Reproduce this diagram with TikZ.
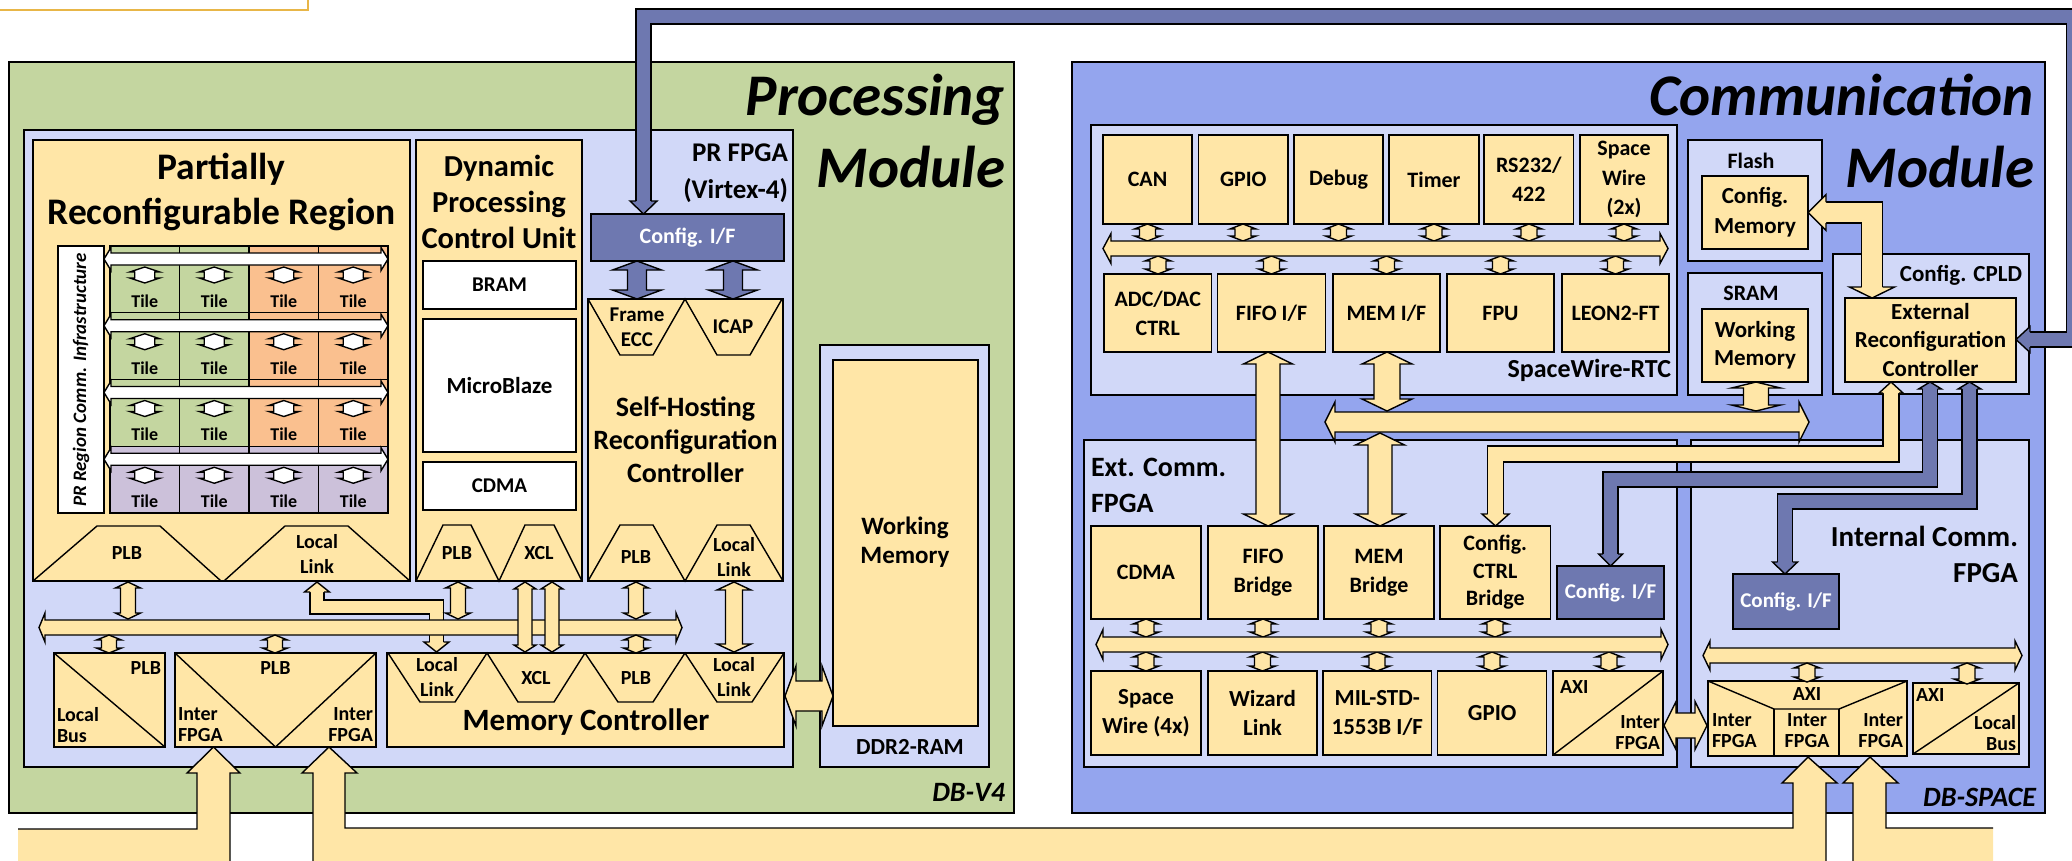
\documentclass[tikz,border=0pt]{standalone}
\usepackage{fontspec}
\setmainfont{Carlito}
\definecolor{cy}{RGB}{255,230,167}
\definecolor{cl}{RGB}{209,216,248}
\definecolor{cc}{RGB}{148,165,238}
\definecolor{cd}{RGB}{110,120,176}
\definecolor{cg}{RGB}{196,214,160}
\definecolor{co}{RGB}{250,192,143}
\definecolor{cp}{RGB}{204,193,218}
\definecolor{cgold}{RGB}{232,182,72}
\newcommand\fsz[2]{\fontsize{\fpeval{0.3*(#1)}}{\fpeval{0.3*(#1)*(#2)}}\selectfont}
\newcommand\bx[7][]{\node[bxs,#1,minimum width={(#5-#3)*0.3pt},minimum height={(#6-#4)*0.3pt}] (#2) at ({(#3+#5)/2},{(#4+#6)/2}) {#7};}
% vertical double arrow: fill, x, ytop, ybottom, shaft, head width, head len top, head len bottom
\newcommand\vdarrow[8]{\filldraw[fill=#1] (#2,#3) -- ++({#6/2},#7) -- ++({-(#6-#5)/2},0) -- ({#2+#5/2},{#4-#8}) -- ++({(#6-#5)/2},0) -- (#2,#4) -- ++({-#6/2},-#8) -- ++({(#6-#5)/2},0) -- ({#2-#5/2},{#3+#7}) -- ++({-(#6-#5)/2},0) -- cycle;}
% horizontal double arrow: fill, y, xleft, xright, shaft, head width, head len
\newcommand\hdarrow[7]{\filldraw[fill=#1] (#3,#2) -- ++(#7,{-#6/2}) -- ++(0,{(#6-#5)/2}) -- ({#4-#7},{#2-#5/2}) -- ++(0,{-(#6-#5)/2}) -- (#4,#2) -- ++(-#7,{#6/2}) -- ++(0,{-(#6-#5)/2}) -- ({#3+#7},{#2+#5/2}) -- ++(0,{(#6-#5)/2}) -- cycle;}
% band along a path: fill colour, width, path
\newcommand\bandpath[3]{\draw[line width={(#2+1.4)*0.3pt},black] #3;\draw[line width={(#2-1.4)*0.3pt},#1] #3;}
% arrow head: fill, tip, angle, shaft width, head width, head length
\newcommand\ahead[6]{\begin{scope}[shift={#2},rotate=#3]\fill[#1] (0,0) -- (-#6,{#5/2}) -- (-#6,{-#5/2}) -- cycle;\draw (-#6,{#4/2}) -- (-#6,{#5/2}) -- (0,0) -- (-#6,{-#5/2}) -- (-#6,{-#4/2});\end{scope}}
\tikzset{bxs/.style={draw,inner sep=0pt,outer sep=0pt,align=center,font=\bfseries},
 lbl/.style={inner sep=0pt,outer sep=0pt,align=center}}
\begin{document}
\begin{tikzpicture}[x=0.3pt,y=-0.3pt,line width=0.42pt,line join=miter]
\useasboundingbox (0,0) rectangle (2072,860);
\clip (0,0) rectangle (2072,860);
% legend box (cut off)
\bx[draw=cgold,fill=white,line width=0.6pt]{legend}{-10}{-20}{308}{10}{}
% modules
\bx[fill=cg]{procmod}{9}{62}{1014}{813}{}
\bx[fill=cc]{commmod}{1072}{62}{2045}{813}{}
\node[lbl,anchor=east,align=right,font={\bfseries\itshape\fsz{59}{1.22}}] (proctitle) at (1005,131) {Processing\\Module};
\node[lbl,anchor=east,align=right,font={\bfseries\itshape\fsz{59}{1.22}}] (commtitle) at (2034,131) {Communication\\Module};
\node[lbl,anchor=east,font={\bfseries\itshape\fsz{28}{1.2}}] (dbv4) at (1005,792) {DB-V4};
\node[lbl,anchor=east,font={\bfseries\itshape\fsz{28}{1.2}}] (dbspace) at (2036,797) {DB-SPACE};
% ===== Processing module =====
\bx[fill=cl]{prfpga}{24}{130}{793}{767}{}
\node[lbl,anchor=east,align=right,font={\bfseries\fsz{27}{1.35}}] (prlbl) at (788,173) {PR FPGA\\(Virtex-4)};
\bx[fill=cl]{ddr}{820}{345}{989}{767}{}
\bx[fill=cy,font={\bfseries\fsz{25}{1.16}}]{wmddr}{833}{360}{978}{726}{}
\node[lbl,font={\bfseries\fsz{25}{1.16}}] (wmlbl) at (905,542) {Working\\Memory};
\node[lbl,font={\bfseries\fsz{23}{1.2}}] (ddrlbl) at (910,747) {DDR2-RAM};
% PR region
\bx[fill=cy]{prr}{33}{140}{410}{581}{}
\node[lbl,font={\bfseries\fsz{37.5}{1.2}}] (prrlbl) at (221.5,192) {Partially\\Reconfigurable Region};
\bx[fill=white]{prcomm}{58}{246}{104}{513}{}
\node[lbl,rotate=90,font={\bfseries\itshape\fsz{19}{1}}] (prcommlbl) at (81,380) {PR Region Comm. Infrastructure};
\foreach \row in {0,1,2,3}{
  \pgfmathsetmacro\ty{246+66.75*\row}
  \foreach \col in {0,1,2,3}{
    \pgfmathsetmacro\tx{110+69.5*\col}
    \ifnum\row=3 \def\tcol{cp}\else\ifnum\col<2 \def\tcol{cg}\else\def\tcol{co}\fi\fi
    \node[draw,fill=\tcol,inner sep=0pt,outer sep=0pt,minimum width=20.85pt,minimum height=20.025pt] (tile\row\col) at (\tx+34.75,\ty+33.375) {};
  }
  \hdarrow{white}{\ty+13}{104}{388}{12}{23}{7}
  \foreach \col in {0,1,2,3}{
    \pgfmathsetmacro\tx{110+69.5*\col}
    \vdarrow{white}{\tx+34.75}{\ty+21}{\ty+37}{20}{30}{5}{5}
    \node[lbl,font={\bfseries\fsz{18}{1.2}}] (tilet\row\col) at (\tx+34.75,\ty+55) {Tile};
  }
}
\draw (33,581) -- (97,526) -- (160,526) -- (221,581);
\draw (224,581) -- (285,526) -- (348,526) -- (410,581);
\node[lbl,font={\bfseries\fsz{20}{1.26}}] (prrplb) at (127,553) {PLB};
\node[lbl,font={\bfseries\fsz{20}{1.26}}] (prrll) at (317,554) {Local\\Link};
% DPCU
\bx[fill=cy]{dpcu}{416}{140}{582}{581}{}
\node[lbl,font={\bfseries\fsz{30.5}{1.18}}] (dpculbl) at (499,202) {Dynamic\\Processing\\Control Unit};
\bx[fill=white,font={\bfseries\fsz{21}{1.2}}]{bram}{423}{261}{576}{309}{BRAM}
\bx[fill=white,font={\bfseries\fsz{23}{1.2}}]{mb}{423}{319}{576}{452}{MicroBlaze}
\bx[fill=white,font={\bfseries\fsz{21}{1.2}}]{cdmaa}{423}{462}{576}{510}{CDMA}
\draw (416,581) -- (443,525) -- (471,525) -- (499,581) -- (525,525) -- (554,525) -- (582,581);
\node[lbl,font={\bfseries\fsz{20}{1.2}}] (dpcuplb) at (457,553) {PLB};
\node[lbl,font={\bfseries\fsz{20}{1.2}}] (dpcuxcl) at (539,553) {XCL};
% SHRC
\bx[fill=cy]{shrc}{588}{299}{783}{581}{}
\node[lbl,font={\bfseries\fsz{28}{1.18}}] (shrclbl) at (685.5,440) {Self-Hosting\\Reconfiguration\\Controller};
\bx[fill=cd,text=white,font={\bfseries\fsz{22}{1.2}}]{cfgpr}{591}{214}{784}{261}{Config. I/F}
\draw (588,299) -- (620,355) -- (653,355) -- (685,299) -- (717,355) -- (750,355) -- (782,299);
\node[lbl,font={\bfseries\fsz{21}{1.2}}] (fecc) at (637,327) {Frame\\ECC};
\node[lbl,font={\bfseries\fsz{21}{1.2}}] (icap) at (733,327) {ICAP};
\draw (588,581) -- (620,525) -- (653,525) -- (685,581) -- (717,525) -- (750,525) -- (783,581);
\node[lbl,font={\bfseries\fsz{20}{1.26}}] (shrcplb) at (636,557) {PLB};
\node[lbl,font={\bfseries\fsz{20}{1.26}}] (shrcll) at (734,557) {Local\\Link};
% bottom blocks
\bx[fill=cy]{lbus}{54}{653}{165}{747}{}
\draw (54,653) -- (165,747);
\node[lbl,anchor=east,font={\bfseries\fsz{20}{1.05}}] (lbusplb) at (161,668) {PLB};
\node[lbl,anchor=west,align=left,font={\bfseries\fsz{20}{1.05}}] (lbuslb) at (57,725) {Local\\Bus};
\bx[fill=cy]{ifpga}{175}{653}{376}{747}{}
\draw (175,653) -- (275.5,747) -- (376,653);
\node[lbl,font={\bfseries\fsz{20}{1.05}}] (ifpgaplb) at (275.5,668) {PLB};
\node[lbl,anchor=west,align=left,font={\bfseries\fsz{20}{1.05}}] (ifpgal) at (178,725) {Inter\\FPGA};
\node[lbl,anchor=east,align=right,font={\bfseries\fsz{20}{1.05}}] (ifpgar) at (373,725) {Inter\\FPGA};
\bx[fill=cy]{mc}{387}{653}{784}{747}{}
\draw (388,653) -- (420,702) -- (455,702) -- (487,653) -- (518,702) -- (554,702) -- (585,653) -- (618,702) -- (653,702) -- (685,653) -- (717,702) -- (752,702) -- (784,653);
\node[lbl,font={\bfseries\fsz{20}{1.26}}] (mcll1) at (437,677) {Local\\Link};
\node[lbl,font={\bfseries\fsz{20}{1.2}}] (mcxcl) at (536,678) {XCL};
\node[lbl,font={\bfseries\fsz{20}{1.2}}] (mcplb) at (636,678) {PLB};
\node[lbl,font={\bfseries\fsz{20}{1.26}}] (mcll2) at (734,677) {Local\\Link};
\node[lbl,font={\bfseries\fsz{31}{1.2}}] (mclbl) at (586,722) {Memory Controller};
% PR arrows
\vdarrow{cd}{637}{261}{299}{19}{49}{9}{9}
\vdarrow{cd}{733}{261}{299}{19}{49}{9}{9}
\vdarrow{cy}{128}{582}{619}{15}{25}{6}{6}
\bandpath{cy}{14}{(317,591) -- (317,607) -- (436.5,607) -- (436.5,643)}
\ahead{cy}{(317,582)}{90}{14}{25}{10}
\ahead{cy}{(436.5,652)}{-90}{14}{25}{10}
\vdarrow{cy}{458}{582}{619}{15}{25}{6}{6}
\vdarrow{cy}{636}{582}{619}{15}{25}{6}{6}
\vdarrow{cy}{734}{582}{652}{17}{34}{8}{8}
\hdarrow{cy}{627.5}{39}{682}{15}{29}{6}
\vdarrow{cy}{525}{582}{652}{14}{22}{7}{7}
\vdarrow{cy}{552}{582}{652}{14}{22}{7}{7}
\vdarrow{cy}{109}{635}{653}{15}{25}{5}{5}
\vdarrow{cy}{275}{635}{653}{15}{25}{5}{5}
\vdarrow{cy}{636}{635}{653}{15}{25}{5}{5}
\hdarrow{cy}{696}{785}{833}{30}{60}{11}
% ===== Communication module =====
\bx[fill=cl]{rtc}{1091}{125}{1677}{395}{}
\node[lbl,anchor=east,font={\bfseries\fsz{26}{1.2}}] (rtclbl) at (1671,370) {SpaceWire-RTC};
\bx[fill=cy,font={\bfseries\fsz{22}{1.32}}]{can}{1103}{135}{1192}{224}{CAN}
\bx[fill=cy,font={\bfseries\fsz{22}{1.32}}]{gpioa}{1198.5}{135}{1288}{224}{GPIO}
\bx[fill=cy,font={\bfseries\fsz{22}{1.32}}]{debug}{1294}{135}{1383}{224}{Debug}
\bx[fill=cy,font={\bfseries\fsz{22}{1.32}}]{timer}{1389}{135}{1479}{224}{Timer}
\bx[fill=cy,font={\bfseries\fsz{22}{1.3}}]{rs}{1484}{135}{1573.5}{224}{RS232/\\422}
\bx[fill=cy,font={\bfseries\fsz{22}{1.34}}]{spwa}{1580}{135}{1668}{224}{Space\\Wire\\(2x)}
\bx[fill=cy,font={\bfseries\fsz{22}{1.32}}]{adc}{1104}{274}{1211.5}{352}{ADC/DAC\\CTRL}
\bx[fill=cy,font={\bfseries\fsz{22}{1.32}}]{fifoif}{1217.6}{274}{1325.5}{352}{FIFO I/F}
\bx[fill=cy,font={\bfseries\fsz{22}{1.32}}]{memif}{1333}{274}{1440}{352}{MEM I/F}
\bx[fill=cy,font={\bfseries\fsz{22}{1.32}}]{fpu}{1447}{274}{1554}{352}{FPU}
\bx[fill=cy,font={\bfseries\fsz{22}{1.32}}]{leon}{1562}{274}{1669}{352}{LEON2-FT}
\foreach \x in {1147.5,1243,1338.5,1434,1529,1624}{\vdarrow{cy}{\x}{224}{241}{16}{26}{5}{5}}
\foreach \x in {1158,1271.5,1386.5,1500.5,1615.5}{\vdarrow{cy}{\x}{256}{274}{16}{26}{5}{5}}
\hdarrow{cy}{248.5}{1103}{1668}{15}{30}{8}
\bx[fill=cl]{flash}{1688}{140}{1822}{261}{}
\node[lbl,font={\bfseries\fsz{22}{1.2}}] (flashlbl) at (1751,161) {Flash};
\bx[fill=cy,font={\bfseries\fsz{23}{1.3}}]{cfgmem}{1702}{176}{1808}{249}{Config.\\Memory}
\bx[fill=cl]{sram}{1688}{273}{1822}{395}{}
\node[lbl,font={\bfseries\fsz{22}{1.2}}] (sramlbl) at (1751,293) {SRAM};
\bx[fill=cy,font={\bfseries\fsz{23}{1.22}}]{wmsram}{1702}{309}{1808}{382}{Working\\Memory}
\bx[fill=cl]{cpld}{1833}{254}{2029}{394}{}
\node[lbl,anchor=east,font={\bfseries\fsz{23}{1.2}}] (cpldlbl) at (2022,275) {Config. CPLD};
\bx[fill=cy,font={\bfseries\fsz{23}{1.24}}]{erc}{1845}{298}{2016}{382}{External\\Reconfiguration\\Controller}
% Ext comm FPGA
\bx[fill=cl]{ext}{1084}{440}{1677}{767}{}
\node[lbl,anchor=west,align=left,font={\bfseries\fsz{28}{1.29}}] (extlbl) at (1091,485) {Ext. Comm.\\FPGA};
\bx[fill=cy,font={\bfseries\fsz{22}{1.32}}]{cdmab}{1091}{526}{1201}{619}{CDMA}
\bx[fill=cy,font={\bfseries\fsz{22}{1.34}}]{fifob}{1208}{526}{1318}{619}{FIFO\\Bridge}
\bx[fill=cy,font={\bfseries\fsz{22}{1.34}}]{memb}{1324}{526}{1434}{619}{MEM\\Bridge}
\bx[fill=cy,font={\bfseries\fsz{22}{1.25}}]{ccb}{1440}{526}{1550.5}{619}{Config.\\CTRL\\Bridge}
\bx[fill=cd,text=white,font={\bfseries\fsz{21}{1.2}}]{cfgext}{1557}{566}{1664}{619}{Config. I/F}
\bx[fill=cy,font={\bfseries\fsz{23}{1.26}}]{spwb}{1091}{671}{1201}{755}{Space\\Wire (4x)}
\bx[fill=cy,font={\bfseries\fsz{23}{1.26}}]{wiz}{1208}{671}{1317}{755}{Wizard\\Link}
\bx[fill=cy,font={\bfseries\fsz{23}{1.26}}]{mil}{1323}{671}{1431.5}{755}{MIL-STD-\\1553B I/F}
\bx[fill=cy,font={\bfseries\fsz{23}{1.26}}]{gpiob}{1437.7}{671}{1546.7}{755}{GPIO}
\bx[fill=cy]{axiif}{1553}{671}{1663}{755}{}
\draw (1553,755) -- (1663,671);
\node[lbl,anchor=west,font={\bfseries\fsz{20}{1.05}}] (axiiflbl) at (1560,687) {AXI};
\node[lbl,anchor=east,align=right,font={\bfseries\fsz{20}{1.05}}] (axiifif) at (1660,733) {Inter\\FPGA};
\foreach \x in {1146,1263,1379,1495}{\vdarrow{cy}{\x}{619}{637}{16}{26}{5}{5}}
\foreach \x in {1146,1262.5,1377,1492,1609}{\vdarrow{cy}{\x}{652}{671}{16}{26}{5}{5}}
\hdarrow{cy}{644.5}{1096}{1668}{15}{30}{7}
% Internal comm FPGA
\bx[fill=cl]{int}{1691}{440}{2029}{767}{}
\node[lbl,anchor=east,align=right,font={\bfseries\fsz{29}{1.24}}] (intlbl) at (2018,554) {Internal Comm.\\FPGA};
\bx[fill=cd,text=white,font={\bfseries\fsz{21}{1.2}}]{cfgint}{1733}{574}{1839}{629}{Config. I/F}
\bx[fill=cy]{axi3}{1708}{681}{1907}{756}{}
\draw (1708,681) -- (1774,709) -- (1839,709) -- (1907,681);
\draw (1774,709) -- (1774,756);
\draw (1839,709) -- (1839,756);
\node[lbl,font={\bfseries\fsz{20}{1.05}}] (axi3lbl) at (1807,694) {AXI};
\node[lbl,anchor=west,align=left,font={\bfseries\fsz{20}{1.05}}] (axi3l) at (1712,731) {Inter\\FPGA};
\node[lbl,font={\bfseries\fsz{20}{1.05}}] (axi3m) at (1807,731) {Inter\\FPGA};
\node[lbl,anchor=east,align=right,font={\bfseries\fsz{20}{1.05}}] (axi3r) at (1903,731) {Inter\\FPGA};
\bx[fill=cy]{axilb}{1913}{683}{2019}{754}{}
\draw (1913,754) -- (2019,683);
\node[lbl,anchor=west,font={\bfseries\fsz{20}{1.05}}] (axilblbl) at (1916,695) {AXI};
\node[lbl,anchor=east,align=right,font={\bfseries\fsz{20}{1.05}}] (axilblb) at (2016,733) {Local\\Bus};
\hdarrow{cy}{655.5}{1703}{2022}{15}{29}{7}
\vdarrow{cy}{1807}{663}{682}{16}{26}{5}{5}
\vdarrow{cy}{1967}{663}{684}{16}{26}{5}{5}
\hdarrow{cy}{725.5}{1664}{1707}{25}{48}{12}
% comm arrows
\hdarrow{cy}{422}{1325}{1809}{20}{40}{10}
\vdarrow{cy}{1268}{352}{526}{24}{49}{12}{12}
\vdarrow{cy}{1387}{352}{411}{26}{50}{12}{12}
\vdarrow{cy}{1380}{433}{526}{24}{49}{12}{12}
\vdarrow{cy}{1756}{382}{411}{25}{49}{6}{6}
\bandpath{cy}{21}{(1825,212.5) -- (1872,212.5) -- (1872,288)}
\ahead{cy}{(1808,212.5)}{180}{21}{36}{18}
\ahead{cy}{(1872,298)}{-90}{21}{45}{11}
\bandpath{cy}{16}{(1891,392) -- (1891,454) -- (1495.5,454) -- (1495.5,515)}
\ahead{cy}{(1891,382)}{90}{16}{24}{11}
\ahead{cy}{(1495.5,526)}{-90}{16}{27}{12}
\bandpath{cd}{15}{(1930,388) -- (1930,479.5) -- (1610.5,479.5) -- (1610.5,555)}
\ahead{cd}{(1930,382)}{90}{15}{23}{7}
\ahead{cd}{(1610.5,566)}{-90}{15}{24}{12}
\bandpath{cd}{15}{(1969.5,388) -- (1969.5,501.5) -- (1785,501.5) -- (1785,563)}
\ahead{cd}{(1969.5,382)}{90}{15}{23}{7}
\ahead{cd}{(1785,574)}{-90}{15}{25}{12}
% big config arrow
\bandpath{cd}{15}{(643.5,202) -- (643.5,16.5) -- (2074,16.5) -- (2074,339.5) -- (2029,339.5)}
\ahead{cd}{(643.5,214)}{-90}{15}{27}{13}
\ahead{cd}{(2016,339.5)}{180}{15}{26}{14}
% bottom inter-FPGA bands
\fill[cy] (18,829) -- (197,829) -- (197,773) -- (187,773) -- (213.5,747) -- (240,773) -- (230,773) -- (230,880) -- (18,880) -- cycle;
\draw (18,829) -- (197,829) -- (197,773) -- (187,773) -- (213.5,747) -- (240,773) -- (230,773) -- (230,880);
\fill[cy] (313,880) -- (313,773) -- (302,773) -- (329,747) -- (357,773) -- (345,773) -- (345,828) -- (1793,828) -- (1793,783) -- (1782,783) -- (1808,757) -- (1837,783) -- (1826,783) -- (1826,880) -- cycle;
\draw (313,880) -- (313,773) -- (302,773) -- (329,747) -- (357,773) -- (345,773) -- (345,828) -- (1793,828) -- (1793,783) -- (1782,783) -- (1808,757) -- (1837,783) -- (1826,783) -- (1826,880);
\fill[cy] (1853,880) -- (1853,783) -- (1843,783) -- (1870,757) -- (1898,783) -- (1886,783) -- (1886,828) -- (1993,828) -- (1993,880) -- cycle;
\draw (1853,880) -- (1853,783) -- (1843,783) -- (1870,757) -- (1898,783) -- (1886,783) -- (1886,828) -- (1993,828);
\end{tikzpicture}
\end{document}
